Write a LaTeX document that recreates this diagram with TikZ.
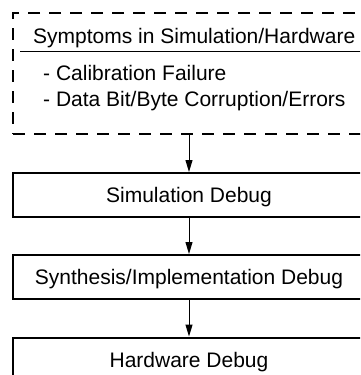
\documentclass[tikz,border=0pt]{standalone}
\usepackage{fontspec}
\setmainfont{Liberation Sans}
\usetikzlibrary{arrows.meta}
\begin{document}
\begin{tikzpicture}[x=1pt,y=-1pt,
  stepbox/.style={draw,line width=2pt,rectangle,minimum width=352pt,minimum height=44pt,
    inner sep=0pt,text height=15pt,text depth=0pt,font=\fontsize{21}{25}\selectfont},
  groupbox/.style={draw,line width=2pt,rectangle,dash pattern=on 12pt off 9pt,
    minimum width=352pt,minimum height=121pt,inner sep=0pt},
  lbl/.style={anchor=base west,inner sep=0pt,font=\fontsize{21}{25}\selectfont},
  flow/.style={line width=1pt,-{Triangle[length=12pt,width=7pt]}}]
\useasboundingbox (0,0) rectangle (360,375);
\clip (0,0) rectangle (360,375);
\fill[white] (0,0) rectangle (360,375);
\node[groupbox] (symp) at (189,73.5) {};
\node[lbl] (title) at (33,43) {Symptoms in Simulation/Hardware};
\coordinate (sepL) at (20,51);
\coordinate (sepR) at (362,51);
\draw[line width=1pt] (sepL) -- (sepR);
\node[lbl] (cal) at (43,80) {- Calibration Failure};
\node[lbl] (data) at (43,106) {- Data Bit/Byte Corruption/Errors};
\node[stepbox] (sim) at (189,195) {Simulation Debug};
\node[stepbox] (syn) at (189,277) {Synthesis/Implementation Debug};
\node[stepbox] (hw) at (189,359.5) {Hardware Debug};
\draw[flow] (symp.south) -- (sim.north);
\draw[flow] (sim.south) -- (syn.north);
\draw[flow] (syn.south) -- (hw.north);
\end{tikzpicture}
\end{document}
